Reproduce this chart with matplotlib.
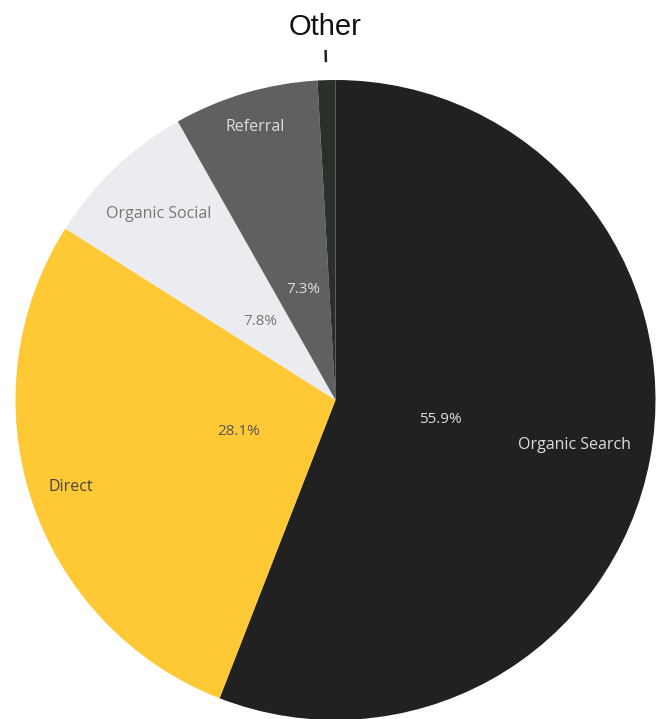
import numpy as np
import matplotlib
matplotlib.use("Agg")
import matplotlib.pyplot as plt

# Traffic share by channel
channels = ["Organic Search", "Direct", "Organic Social", "Referral", "Other"]
shares = [55.9, 28.1, 7.8, 7.3, 0.9]

colors = ["#222122", "#FFC835", "#EBECEF", "#606060", "#283029"]
pct_colors = ["#DDDDDD", "#555555", "#777777", "#DDDDDD"]
name_colors = ["#DDDDDD", "#444444", "#777777", "#DDDDDD"]
name_radius = [0.76, 0.87, 0.80, 0.89]
pct_radius = [0.335, 0.32, 0.34, 0.36]

W, H = 662, 719
R_PX = 320.0
CX, CY = 335.5, 400.0  # pie centre in pixels from top-left

fig = plt.figure(figsize=(W / 100, H / 100), dpi=100)
ax = fig.add_axes([0, 0, 1, 1])

wedges, _ = ax.pie(shares, colors=colors, startangle=90, counterclock=False,
                   radius=1.0, wedgeprops=dict(linewidth=0))

font = "Open Sans"
for i, w in enumerate(wedges[:4]):
    mid = np.deg2rad((w.theta1 + w.theta2) / 2)
    rp = pct_radius[i]
    rn = name_radius[i]
    ax.text(rp * np.cos(mid), rp * np.sin(mid), f"{shares[i]:.1f}%",
            ha="center", va="center", fontsize=11, color=pct_colors[i],
            family=font)
    ax.text(rn * np.cos(mid), rn * np.sin(mid), channels[i],
            ha="center", va="center", fontsize=11.5, color=name_colors[i],
            family=font)

# Outside label for the smallest slice
w = wedges[4]
mid = np.deg2rad((w.theta1 + w.theta2) / 2)
ax.plot([1.056 * np.cos(mid), 1.094 * np.cos(mid)],
        [1.056 * np.sin(mid), 1.094 * np.sin(mid)],
        color="#222222", lw=1.8, solid_capstyle="butt")
ax.text(1.165 * np.cos(mid), 1.165 * np.sin(mid), channels[4],
        ha="center", va="center", fontsize=21, color="#111111",
        family="Liberation Sans")

ax.set_xlim(-CX / R_PX, (W - CX) / R_PX)
ax.set_ylim(-(H - CY) / R_PX, CY / R_PX)
ax.set_aspect("auto")
ax.axis("off")

fig.savefig("out.png", dpi=100)
